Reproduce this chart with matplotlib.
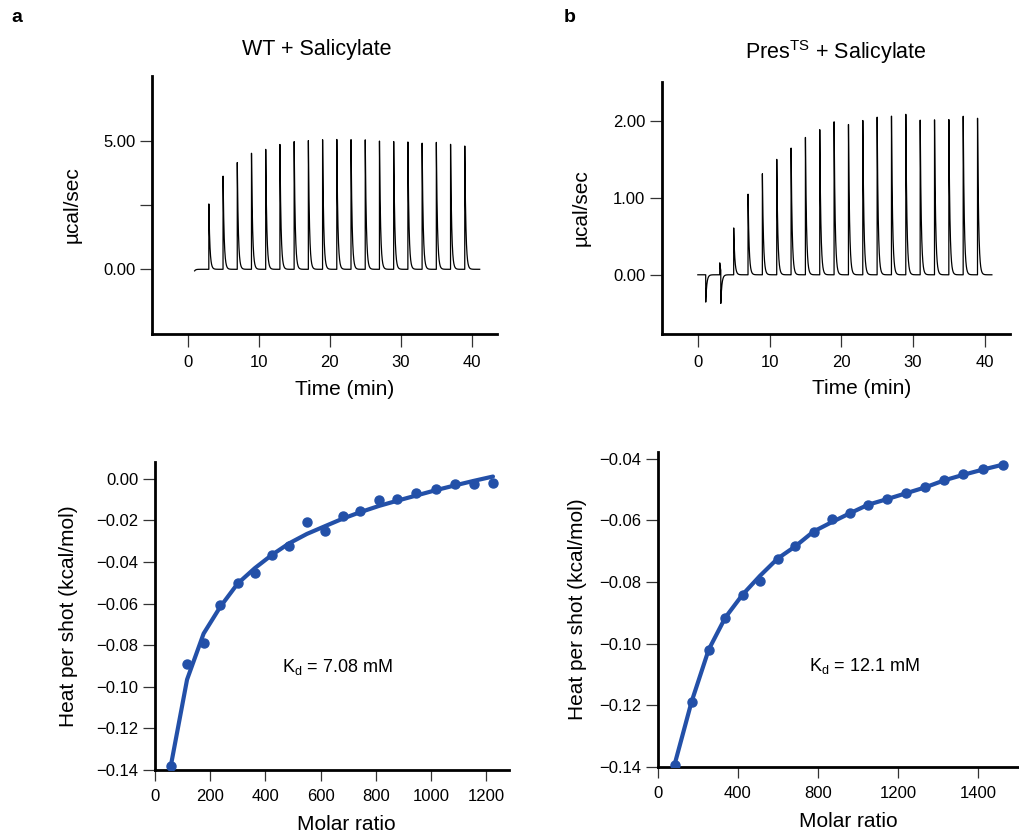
import numpy as np
import matplotlib
matplotlib.use("Agg")
import matplotlib.pyplot as plt

plt.rcParams['font.family'] = ['Liberation Sans', 'DejaVu Sans']
plt.rcParams['mathtext.fontset'] = 'custom'
plt.rcParams['mathtext.rm'] = 'Liberation Sans'
plt.rcParams['mathtext.it'] = 'Liberation Sans'

# --- raw thermograms (injection time in min, peak height in ucal/sec)
wt_inj_t = [0.9, 3, 5, 7, 9, 11, 13, 15, 17, 19, 21, 23, 25, 27, 29, 31, 33, 35, 37, 39]
wt_inj_h = [-0.12, 2.55, 3.64, 4.18, 4.55, 4.71, 4.91, 5.03, 5.08, 5.12, 5.14,
            5.14, 5.14, 5.10, 5.09, 5.08, 5.04, 5.08, 5.01, 4.95]
wt_trace_span = (1.0, 41.1)

ts_inj_t = [1.1, 3.05, 3.2, 5, 7, 9, 11, 13, 15, 17, 19, 21, 23, 25, 27, 29, 31, 33, 35, 37, 39]
ts_inj_h = [-0.36, 0.16, -0.44, 0.62, 1.06, 1.32, 1.55, 1.69, 1.82, 1.91, 2.00, 2.02,
            2.06, 2.09, 2.09, 2.10, 2.08, 2.07, 2.06, 2.09, 2.05]
ts_trace_span = (0.0, 41.0)

# --- integrated heats
wt_ratio = [57, 116, 176, 236, 299, 361, 423, 486, 550, 615, 679, 744, 812, 878,
            947, 1016, 1085, 1154, 1224]
wt_heat = [-0.1381, -0.0891, -0.0787, -0.0606, -0.0501, -0.0454, -0.0366, -0.0322,
           -0.0208, -0.0250, -0.0179, -0.0157, -0.0101, -0.0098, -0.0066, -0.0051,
           -0.0027, -0.0026, -0.0019]
wt_fit = [-0.1381, -0.0965, -0.0744, -0.0616, -0.0504, -0.0430, -0.0366, -0.0310,
          -0.0265, -0.0228, -0.0192, -0.0160, -0.0130, -0.0105, -0.0080, -0.0055,
          -0.0032, -0.0010, 0.0011]

ts_ratio = [83, 168, 254, 337, 423, 510, 598, 687, 778, 868, 959, 1051, 1145, 1240,
            1335, 1431, 1527, 1625, 1725]
ts_heat = [-0.1393, -0.1189, -0.1019, -0.0915, -0.0841, -0.0798, -0.0724, -0.0684,
           -0.0636, -0.0596, -0.0577, -0.0549, -0.0531, -0.0512, -0.0493, -0.0468,
           -0.0450, -0.0434, -0.0419]
ts_fit = [-0.1393, -0.1189, -0.1019, -0.0915, -0.0841, -0.0780, -0.0724, -0.0684,
          -0.0636, -0.0606, -0.0577, -0.0549, -0.0531, -0.0512, -0.0493, -0.0470,
          -0.0452, -0.0435, -0.0419]

blue = '#2350a8'


def thermogram(inj_t, inj_h, span, tau=0.15):
    t = np.linspace(span[0], span[1], 8000)
    y = np.zeros_like(t)
    for ti, hi in zip(inj_t, inj_h):
        m = t >= ti
        y[m] += hi * np.exp(-(t[m] - ti) / tau)
    return t, y


def style(ax, xtl=9.5):
    for s in ['top', 'right']:
        ax.spines[s].set_visible(False)
    for s in ['left', 'bottom']:
        ax.spines[s].set_linewidth(2.0)
    ax.tick_params(axis='x', length=xtl, width=0.9, color='#333333', labelsize=12, pad=6)
    ax.tick_params(axis='y', length=9, width=0.9, color='#333333', labelsize=12, pad=3)


fig = plt.figure(figsize=(10.2, 8.32), dpi=100)

# top left
ax1 = fig.add_axes([0.149, 0.5986, 0.338, 0.310])
t, y = thermogram(wt_inj_t, wt_inj_h, wt_trace_span)
ax1.plot(t, y, color='black', lw=0.9)
ax1.set_xlim(-5, 43.5)
ax1.set_ylim(-2.52, 7.53)
ax1.set_xticks([0, 10, 20, 30, 40])
ax1.set_yticks([0, 2.5, 5])
ax1.set_yticklabels(['0.00', '', '5.00'])
style(ax1)
ax1.set_ylabel('µcal/sec', fontsize=15)
ax1.yaxis.set_label_coords(-0.203, 0.5)
ax1.set_xlabel('Time (min)', fontsize=15)
ax1.xaxis.set_label_coords(0.56, -0.18)

# top right
ax2 = fig.add_axes([0.649, 0.5986, 0.341, 0.303])
t, y = thermogram(ts_inj_t, ts_inj_h, ts_trace_span)
ax2.plot(t, y, color='black', lw=0.9)
ax2.set_xlim(-5, 43.5)
ax2.set_ylim(-0.77, 2.51)
ax2.set_xticks([0, 10, 20, 30, 40])
ax2.set_yticks([0, 1, 2])
ax2.set_yticklabels(['0.00', '1.00', '2.00'])
style(ax2)
ax2.set_ylabel('µcal/sec', fontsize=15)
ax2.yaxis.set_label_coords(-0.205, 0.5)
ax2.set_xlabel('Time (min)', fontsize=15)
ax2.xaxis.set_label_coords(0.575, -0.18)

# bottom left
ax3 = fig.add_axes([0.152, 0.0745, 0.347, 0.370])
ax3.plot(wt_ratio, wt_fit, color=blue, lw=3, solid_capstyle='round', zorder=2)
ax3.plot(wt_ratio, wt_heat, 'o', color=blue, ms=6.5, zorder=3)
ax3.set_xlim(0, 1282)
ax3.set_ylim(-0.14, 0.008)
ax3.set_xticks([0, 200, 400, 600, 800, 1000, 1200])
yt = [0, -0.02, -0.04, -0.06, -0.08, -0.10, -0.12, -0.14]
ax3.set_yticks(yt)
ax3.set_yticklabels([('%.2f' % v).replace('-', '\u2212') for v in yt])
style(ax3, xtl=8)
ax3.set_ylabel('Heat per shot (kcal/mol)', fontsize=15)
ax3.yaxis.set_label_coords(-0.217, 0.5)
ax3.set_xlabel('Molar ratio', fontsize=15)
ax3.xaxis.set_label_coords(0.54, -0.146)
ax3.text(460, -0.0904, r'K$_{\mathrm{d}}$ = 7.08 mM', fontsize=13, va='center')

# bottom right
ax4 = fig.add_axes([0.645, 0.0781, 0.353, 0.379])
ax4.plot(ts_ratio, ts_fit, color=blue, lw=3, solid_capstyle='round', zorder=2)
ax4.plot(ts_ratio, ts_heat, 'o', color=blue, ms=6.5, zorder=3)
ax4.set_xlim(0, 1800)
ax4.set_ylim(-0.14, -0.0377)
ax4.set_xticks([0, 400, 800, 1200, 1600])
ax4.set_xticklabels(['0', '400', '800', '1200', '1400'])
yt = [-0.04, -0.06, -0.08, -0.10, -0.12, -0.14]
ax4.set_yticks(yt)
ax4.set_yticklabels([('%.2f' % v).replace('-', '\u2212') for v in yt])
style(ax4, xtl=8)
ax4.set_ylabel('Heat per shot (kcal/mol)', fontsize=15)
ax4.yaxis.set_label_coords(-0.197, 0.5)
ax4.set_xlabel('Molar ratio', fontsize=15)
ax4.xaxis.set_label_coords(0.53, -0.142)
ax4.text(755, -0.1071, r'K$_{\mathrm{d}}$ = 12.1 mM', fontsize=13, va='center')

# titles and panel letters
fig.text(317 / 1020, 1 - 50 / 832, 'WT + Salicylate', fontsize=15.5, ha='center', va='center')
fig.text(836 / 1020, 1 - 52 / 832, r'Pres$^{\mathrm{TS}}$ + Salicylate', fontsize=15.5,
         ha='center', va='center')
fig.text(17 / 1020, 1 - 18 / 832, 'a', fontsize=14, fontweight='bold', ha='center', va='center')
fig.text(570 / 1020, 1 - 18 / 832, 'b', fontsize=14, fontweight='bold', ha='center', va='center')

fig.savefig('out.png', dpi=100)
